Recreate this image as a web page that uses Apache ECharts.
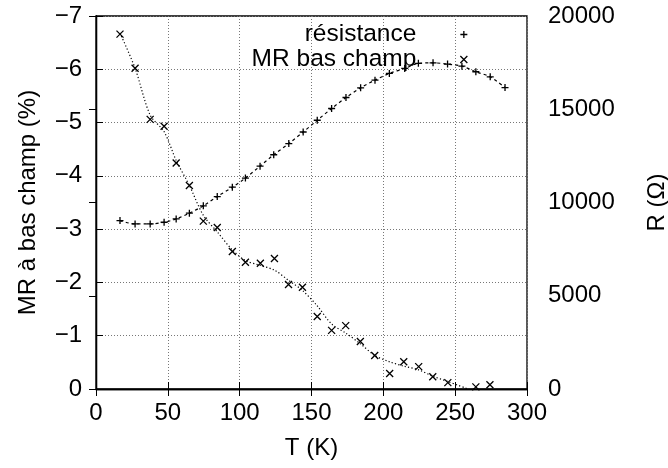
<!DOCTYPE html>
<html>
<head>
<meta charset="utf-8">
<script src="https://cdn.jsdelivr.net/npm/echarts@6/dist/echarts.min.js"></script>
<style>
html,body{margin:0;padding:0;background:#fff;}
#chart{width:668px;height:468px;}
</style>
</head>
<body>
<div id="chart"></div>
<script>
// Temperatures (K) of the measurements
const tempMR = [16.7, 27.2, 37.7, 47.4, 55.8, 65, 74.7, 84.4, 94.9, 104, 114.4, 124.2, 134, 143.7, 154, 164, 173.8, 184, 194, 204.4, 214.2, 224.6, 234.4, 244.9, 264.4, 274.2];
// Low-field MR (%)
const valMR = [-6.66, -6.02, -5.06, -4.93, -4.24, -3.82, -3.15, -3.03, -2.58, -2.38, -2.36, -2.45, -1.96, -1.91, -1.36, -1.10, -1.19, -0.89, -0.63, -0.29, -0.51, -0.42, -0.23, -0.12, -0.04, -0.08];

// Resistance measurements
const tempR = [16.7, 27.2, 37.7, 47.4, 55.8, 65, 74.7, 84.4, 94.9, 104, 114.2, 123.7, 134.2, 144.2, 154, 164, 174, 184.2, 194.2, 204.2, 214.9, 224.4, 234.6, 244.7, 254.7, 264.4, 274.4, 284.7];
const valR = [9030, 8850, 8850, 8940, 9120, 9430, 9820, 10320, 10820, 11310, 11950, 12560, 13160, 13780, 14410, 15040, 15630, 16150, 16560, 16920, 17190, 17460, 17490, 17420, 17310, 17010, 16740, 16160];

// Fitted MR curve
const fitMRT = [16.7, 27.2, 37.7, 47.4, 55.8, 65, 74.7, 84.4, 94.9, 104, 114.4, 124.2, 134, 143.7, 154, 164, 173.8, 184, 194, 204.4, 214.2, 224.6, 234.4, 244.9, 259];
const fitMRV = [-6.68, -6.02, -5.14, -4.83, -4.29, -3.82, -3.26, -2.95, -2.61, -2.41, -2.32, -2.23, -2.04, -1.85, -1.56, -1.22, -1.05, -0.85, -0.63, -0.51, -0.43, -0.36, -0.24, -0.14, 0];

// Tick labels
const xTicks = [0, 50, 100, 150, 200, 250, 300];
const yLeftTicks = [0, -1, -2, -3, -4, -5, -6, -7];
const yRightTicks = [0, 5000, 10000, 15000, 20000];

const FONT = 'Liberation Sans';
const FS = 24;
const plusPath = 'path://M0,4L8,4M4,0L4,8';
const crossPath = 'path://M0,0L8,8M8,0L0,8';
const markStyle = {color: 'rgba(0,0,0,0)', borderColor: '#000', borderWidth: 1.3, opacity: 1};

function pairs(xs, ys) { return xs.map((x, i) => [x, ys[i]]); }

const chart = echarts.init(document.getElementById('chart'), null, {renderer: 'canvas'});

const gridLine = {show: true, lineStyle: {color: '#777', type: [1, 2], width: 1}};
const labelStyle = {color: '#000', fontFamily: FONT, fontSize: FS};
const nameStyle = {color: '#000', fontFamily: FONT, fontSize: FS};

chart.setOption({
  animation: false,
  backgroundColor: '#fff',
  grid: {left: 96, right: 141, top: 16, bottom: 79, outerBoundsMode: 'none', containLabel: false,
         show: true, borderColor: '#000', borderWidth: 1.3, backgroundColor: 'transparent'},
  legend: {
    orient: 'vertical',
    align: 'right',
    right: 200,
    top: 22,
    padding: 0,
    itemGap: 0,
    itemWidth: 7,
    itemHeight: 7,
    inactiveColor: '#000',
    formatter: n => '{t|' + n + '}',
    textStyle: {rich: {t: {fontFamily: FONT, fontSize: 24.5, color: '#000', lineHeight: 24, padding: [0, 39, 0, 0]}}},
    data: [
      {name: 'résistance', icon: plusPath, itemStyle: markStyle},
      {name: 'MR bas champ', icon: crossPath, itemStyle: markStyle}
    ]
  },
  xAxis: [{
    type: 'value', min: xTicks[0], max: xTicks[xTicks.length - 1], interval: 50,
    name: 'T (K)', nameLocation: 'middle', nameGap: 47,
    nameTextStyle: nameStyle,
    axisLine: {show: true, lineStyle: {color: '#000', width: 1.3}},
    axisTick: {show: true, inside: true, length: 7, lineStyle: {color: '#000'}},
    axisLabel: Object.assign({margin: 12, formatter: v => String(v)}, labelStyle),
    splitLine: gridLine
  }, {
    type: 'value', position: 'top', min: xTicks[0], max: xTicks[xTicks.length - 1], interval: 50,
    axisLine: {show: true, lineStyle: {color: '#000', width: 1.3}},
    axisTick: {show: true, inside: true, length: 7, lineStyle: {color: '#000'}},
    axisLabel: {show: false}, splitLine: {show: false}
  }],
  yAxis: [{
    type: 'value', inverse: true, min: yLeftTicks[yLeftTicks.length - 1], max: yLeftTicks[0], interval: 1, position: 'left',
    name: 'MR à bas champ (%)', nameLocation: 'middle', nameGap: 56, nameRotate: 90,
    nameTextStyle: nameStyle,
    axisLine: {show: true, lineStyle: {color: '#000', width: 1.3}},
    axisTick: {show: true, inside: true, length: 7, lineStyle: {color: '#000'}},
    axisLabel: Object.assign({margin: 14, formatter: v => v < 0 ? '\u2212' + (-v) : String(v)}, labelStyle),
    splitLine: gridLine
  }, {
    type: 'value', min: yRightTicks[0], max: yRightTicks[yRightTicks.length - 1], interval: 5000, position: 'right',
    name: 'R (Ω)', nameLocation: 'middle', nameGap: 118, nameRotate: 90,
    nameTextStyle: nameStyle,
    axisLine: {show: true, lineStyle: {color: '#000', width: 1.3}},
    axisTick: {show: true, inside: true, length: 7, lineStyle: {color: '#000'}},
    axisLabel: Object.assign({margin: 21, formatter: v => String(v)}, labelStyle),
    splitLine: {show: false}
  }],
  series: [
    {
      name: 'résistance fit', type: 'line', xAxisIndex: 0, yAxisIndex: 1,
      data: pairs(tempR, valR), smooth: 0.3, showSymbol: false, symbol: 'none',
      lineStyle: {color: '#000', width: 1.2, type: [3, 3]}, silent: true, z: 2
    },
    {
      name: 'MR fit', type: 'line', xAxisIndex: 0, yAxisIndex: 0,
      data: pairs(fitMRT, fitMRV), smooth: 0.3, showSymbol: false, symbol: 'none',
      lineStyle: {color: '#000', width: 1.2, type: [1.2, 2.2]}, silent: true, z: 2
    },
    {
      name: 'résistance', type: 'scatter', xAxisIndex: 0, yAxisIndex: 1,
      data: pairs(tempR, valR), symbol: plusPath, symbolSize: 7,
      itemStyle: markStyle, z: 3
    },
    {
      name: 'MR bas champ', type: 'scatter', xAxisIndex: 0, yAxisIndex: 0,
      data: pairs(tempMR, valMR), symbol: crossPath, symbolSize: 7,
      itemStyle: markStyle, z: 3
    }
  ]
});
</script>
</body>
</html>
